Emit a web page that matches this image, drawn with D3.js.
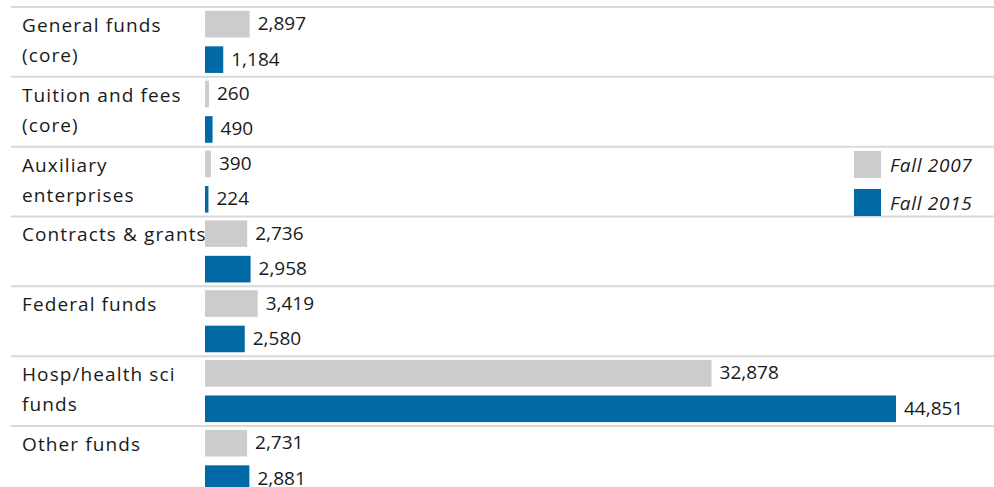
<!DOCTYPE html>
<html>
<head>
<meta charset="utf-8">
<script src="https://cdn.jsdelivr.net/npm/d3@7"></script>
<style>
  body { margin: 0; background: #fff; }
  text { font-family: "Open Sans", Lato, sans-serif; fill: #1a1a1a; }
</style>
</head>
<body>
<div id="chart"></div>
<script>
// chart data
let categories = ["General funds\n(core)", "Tuition and fees\n(core)", "Auxiliary\nenterprises",
  "Contracts & grants", "Federal funds", "Hosp/health sci\nfunds", "Other funds"];
let seriesNames = ["Fall 2007", "Fall 2015"];
let fall2007 = [2897, 260, 390, 2736, 3419, 32878, 2731];
let fall2015 = [1184, 490, 224, 2958, 2580, 44851, 2881];
let colors = ["#cccccc", "#0069a6"];

let svgWidth = 994;
let svgHeight = 487;

let rowTop = 7;
let rowH = 69.83;

let svg = d3.select("#chart")
  .append("svg")
  .attr("width", svgWidth)
  .attr("height", svgHeight);

// rows for each category
let yRow = d3.scaleBand()
  .domain(categories)
  .range([rowTop, rowTop + rowH * categories.length]);

// bars inside a row
let ySeries = d3.scaleBand()
  .domain(seriesNames)
  .range([0, rowH])
  .paddingInner(0.25)
  .paddingOuter(0.11);

let x = d3.scaleLinear()
  .domain([0, d3.max(fall2015.concat(fall2007))])
  .range([205, 896]);

let fmt = d3.format(",");

// separator lines
let lineYs = categories.map(c => yRow(c)).concat([yRow.range()[1]]);
svg.append("g").selectAll("line")
  .data(lineYs)
  .enter()
  .append("line")
  .attr("x1", 11)
  .attr("x2", svgWidth)
  .attr("y1", d => d)
  .attr("y2", d => d)
  .attr("stroke", "#d9d9d9")
  .attr("stroke-width", 2);

// category labels
let labels = svg.append("g").selectAll("text")
  .data(categories)
  .enter()
  .append("text")
  .attr("x", 22)
  .attr("y", d => yRow(d) + 25)
  .attr("font-size", "19px")
  .attr("letter-spacing", "1.1px");

labels.selectAll("tspan")
  .data(d => d.split("\n"))
  .enter()
  .append("tspan")
  .attr("x", 22)
  .attr("dy", (d, i) => i == 0 ? 0 : 30)
  .text(d => d);

// bars + value labels
let rows = categories.map((c, i) => [
  { cat: c, series: seriesNames[0], value: fall2007[i], color: colors[0] },
  { cat: c, series: seriesNames[1], value: fall2015[i], color: colors[1] }
]).flat();

let barGroup = svg.append("g");

barGroup.selectAll("rect")
  .data(rows)
  .enter()
  .append("rect")
  .attr("x", x(0))
  .attr("y", d => yRow(d.cat) + ySeries(d.series))
  .attr("width", d => x(d.value) - x(0))
  .attr("height", ySeries.bandwidth())
  .attr("fill", d => d.color);

barGroup.selectAll("text")
  .data(rows)
  .enter()
  .append("text")
  .attr("x", d => x(d.value) + 8)
  .attr("y", d => yRow(d.cat) + ySeries(d.series) + ySeries.bandwidth() / 2 + 6)
  .attr("font-size", "19px")
  .text(d => fmt(d.value));

// legend
let legend = svg.append("g").selectAll("g")
  .data(seriesNames)
  .enter()
  .append("g")
  .attr("transform", (d, i) => `translate(854, ${151 + i * 38})`);

legend.append("rect")
  .attr("width", 27)
  .attr("height", 27)
  .attr("fill", (d, i) => colors[i]);

legend.append("text")
  .attr("x", 36)
  .attr("y", 21)
  .attr("font-size", "19px")
  .attr("font-style", "italic")
  .attr("letter-spacing", "0.7px")
  .text(d => d);
</script>
</body>
</html>
